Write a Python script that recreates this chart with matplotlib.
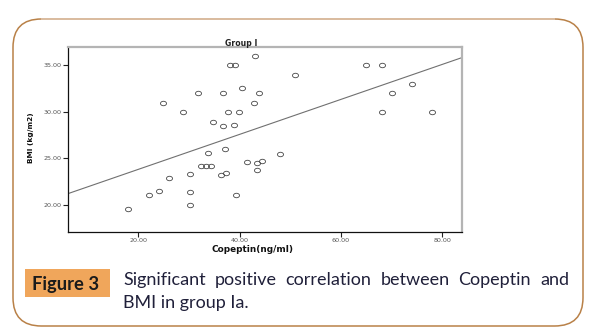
import numpy as np
import matplotlib
matplotlib.use("Agg")
import matplotlib.pyplot as plt
from matplotlib.patches import FancyBboxPatch, Rectangle
from matplotlib.path import Path
from matplotlib.lines import Line2D

# Copeptin (ng/ml) and BMI (kg/m2) for group I
copeptin = [18.0, 22.1, 24.1, 26.1, 24.8, 28.8, 30.3, 30.3, 30.3, 31.8,
            32.3, 33.3, 34.3, 33.7, 34.7, 36.3, 37.4, 36.8, 36.8, 37.1,
            37.8, 38.1, 39.1, 38.8, 39.3, 39.8, 40.4, 41.4, 42.8, 43.0,
            43.4, 43.4, 43.8, 44.4, 48.0, 51.0, 65.0, 68.0, 74.0, 70.1,
            68.0, 78.0]
bmi = [19.5, 21.0, 21.5, 22.9, 30.9, 30.0, 23.3, 21.3, 20.0, 32.0,
       24.1, 24.1, 24.1, 25.5, 28.9, 23.2, 23.4, 32.0, 28.5, 26.0,
       30.0, 35.0, 35.0, 28.6, 21.0, 30.0, 32.5, 24.6, 30.9, 36.0,
       23.7, 24.5, 32.0, 24.7, 25.4, 34.0, 35.0, 35.0, 33.0, 32.0,
       30.0, 30.0]

# fitted line BMI = intercept + slope * copeptin
fit_intercept = 20.02
fit_slope = 0.1885

x_ticks = [20, 40, 60, 80]
y_ticks = [20, 25, 30, 35]
x_limits = (6.2, 83.8)
y_limits = (17.1, 37.0)

W, H = 591, 335
fig = plt.figure(figsize=(W / 100, H / 100), dpi=100)
fig.patch.set_facecolor("white")

def fx(px):
    return px / W

def fy(py):
    return 1 - py / H

# rounded frame around figure and caption
frame = FancyBboxPatch((fx(13), fy(326)), fx(583) - fx(13), fy(19) - fy(326),
                       boxstyle="round,pad=0,rounding_size=0.048",
                       transform=fig.transFigure, facecolor="none",
                       edgecolor="#b98148", linewidth=1.1,
                       mutation_aspect=W / H)
fig.add_artist(frame)
fig.add_artist(Line2D([fx(42), fx(554)], [fy(19), fy(19)],
                      transform=fig.transFigure, color="#dbbda2", lw=1.4))

ax = fig.add_axes([fx(68.3), fy(231.5), fx(461.7) - fx(68.3), fy(46.7) - fy(231.5)])
ax.set_xlim(*x_limits)
ax.set_ylim(*y_limits)

# slightly flattened open circle marker
t = np.linspace(0, 2 * np.pi, 40)
ellipse = Path(np.column_stack([np.cos(t), 0.75 * np.sin(t)]), closed=True)

ax.plot(copeptin, bmi, linestyle="none", marker=ellipse, markersize=4.3,
        markerfacecolor="none", markeredgecolor="#444444", markeredgewidth=0.6)

xs = np.array(x_limits)
ax.plot(xs, fit_intercept + fit_slope * xs, color="#707070", lw=0.8)

ax.set_xticks(x_ticks)
ax.set_yticks(y_ticks)
ax.set_xticklabels([f"{v:.2f}" for v in x_ticks])
ax.set_yticklabels([f"{v:.2f}" for v in y_ticks])
ax.tick_params(axis="both", length=3.5, width=0.8, color="#222222",
               labelsize=4.6, labelcolor="#555555", pad=1.2)

for side in ("left", "bottom"):
    ax.spines[side].set_color("#111111")
    ax.spines[side].set_linewidth(0.9)
for side in ("top", "right"):
    ax.spines[side].set_color("#b4b4b4")
    ax.spines[side].set_linewidth(1.6)

fig.text(fx(241.5), fy(43.3), "Group I", ha="center", va="center",
         fontsize=5.6, fontweight="bold", color="#222222")
fig.text(fx(252), fy(249.5), "Copeptin(ng/ml)", ha="center", va="center",
         fontsize=6.4, fontweight="bold", color="#111111")
fig.text(fx(31), fy(138), "BMI (kg/m2)", ha="center", va="center",
         rotation=90, fontsize=5.3, fontweight="bold", color="#111111")

# caption
fig.add_artist(Rectangle((fx(25), fy(297)), fx(110) - fx(25), fy(269) - fy(297),
                         transform=fig.transFigure, facecolor="#f0a65b",
                         edgecolor="none"))
fig.text(fx(32), fy(290), "Figure 3", ha="left", va="baseline",
         fontsize=13.2, fontweight="bold", color="#1b1b1b",
         family=["Lato", "DejaVu Sans"])

caption_color = "#20203a"
cap_kw = dict(fontsize=13.0, color=caption_color, family=["Lato", "DejaVu Sans"],
              va="baseline", ha="left")
line1 = "Significant positive correlation between Copeptin and".split()
line2 = "BMI in group Ia."

x_left, x_right = 123, 569
words = [fig.text(0, fy(285), w, **cap_kw) for w in line1]
fig.canvas.draw()
renderer = fig.canvas.get_renderer()
widths = [w.get_window_extent(renderer).width for w in words]
gap = (x_right - x_left - sum(widths)) / (len(words) - 1)
pos = x_left
for w, wd in zip(words, widths):
    w.set_x(fx(pos))
    pos += wd + gap

fig.text(fx(x_left), fy(308), line2, **cap_kw)

fig.savefig("out.png", dpi=100, facecolor="white")
